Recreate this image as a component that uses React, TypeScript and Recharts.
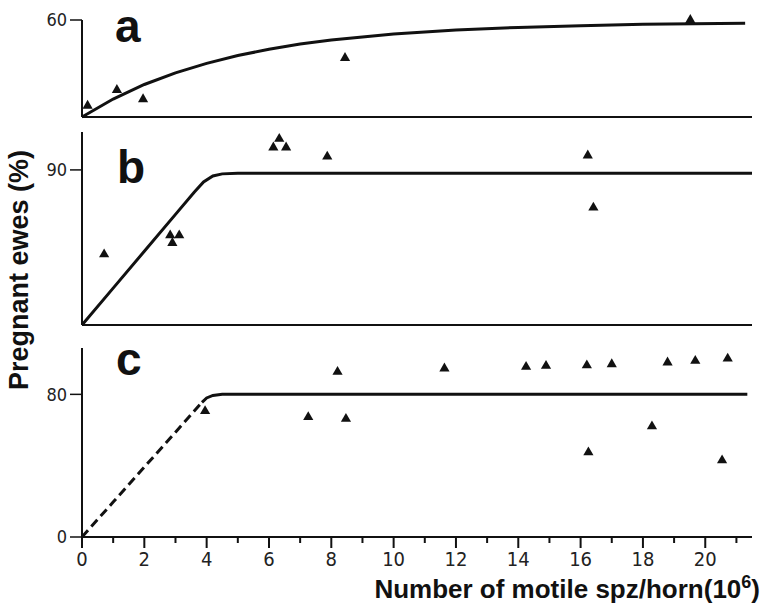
import { ComposedChart, Line, ReferenceLine, Scatter, XAxis, YAxis, ZAxis } from "recharts";

type Pt = { x: number; y: number };

// panel a: fitted curve + observations
const curveA: Pt[] = [
  { x: 0, y: 0 },
  { x: 1, y: 11.1 },
  { x: 2, y: 20.1 },
  { x: 3, y: 27.3 },
  { x: 4, y: 33.2 },
  { x: 5, y: 38.0 },
  { x: 6, y: 41.9 },
  { x: 7, y: 45.1 },
  { x: 8, y: 47.6 },
  { x: 10, y: 51.4 },
  { x: 12, y: 53.8 },
  { x: 14, y: 55.4 },
  { x: 16, y: 56.5 },
  { x: 18, y: 57.3 },
  { x: 21.28, y: 58.0 }
];
const pointsA: Pt[] = [
  { x: 0.18, y: 7 },
  { x: 1.12, y: 16.7 },
  { x: 1.96, y: 11 },
  { x: 8.44, y: 36.5 },
  { x: 19.52, y: 60 }
];

// panel b
const curveB: Pt[] = [
  { x: 0, y: 0 },
  { x: 1, y: 21.4 },
  { x: 2, y: 42.8 },
  { x: 3, y: 64.2 },
  { x: 3.6, y: 77 },
  { x: 3.9, y: 83 },
  { x: 4.2, y: 86.5 },
  { x: 4.5, y: 87.7 },
  { x: 5, y: 88 },
  { x: 21.5, y: 88 }
];
const pointsB: Pt[] = [
  { x: 0.71, y: 41 },
  { x: 2.83, y: 52 },
  { x: 3.12, y: 52 },
  { x: 2.9, y: 47.6 },
  { x: 6.14, y: 103 },
  { x: 6.33, y: 108 },
  { x: 6.55, y: 103 },
  { x: 7.87, y: 97.7 },
  { x: 16.23, y: 98.4 },
  { x: 16.41, y: 68.1 }
];

// panel c: dashed extrapolation, then solid plateau
const dashC: Pt[] = [
  { x: 0, y: 0 },
  { x: 1, y: 19.6 },
  { x: 2, y: 39.2 },
  { x: 3, y: 58.8 },
  { x: 3.85, y: 75.5 }
];
const curveC: Pt[] = [
  { x: 3.85, y: 75.5 },
  { x: 4.0, y: 78 },
  { x: 4.2, y: 79.4 },
  { x: 4.5, y: 80 },
  { x: 21.35, y: 80 }
];
const pointsC: Pt[] = [
  { x: 3.95, y: 70.6 },
  { x: 7.26, y: 67.2 },
  { x: 8.2, y: 92.6 },
  { x: 8.47, y: 66.3 },
  { x: 11.63, y: 94.5 },
  { x: 14.25, y: 95.4 },
  { x: 14.89, y: 96 },
  { x: 16.2, y: 96.3 },
  { x: 17.0, y: 96.9 },
  { x: 18.79, y: 97.9 },
  { x: 19.68, y: 98.8 },
  { x: 20.72, y: 100.1 },
  { x: 18.29, y: 62.1 },
  { x: 16.25, y: 47.5 },
  { x: 20.54, y: 43 }
];

const xTicks = [0, 1, 2, 3, 4, 5, 6, 7, 8, 9, 10, 11, 12, 13, 14, 15, 16, 17, 18, 19, 20, 21];
const X_MAX = 21.5;

const INK = "#111";
const narrow = '"Liberation Sans Narrow", "DejaVu Sans Condensed", sans-serif';
const sans = '"Liberation Sans", Arial, sans-serif';

const XTick = (props: any) => {
  const { x, y, payload } = props;
  const major = payload.value % 2 === 0;
  return (
    <g>
      <line x1={x} x2={x} y1={y} y2={y + (major ? 11 : 6)} stroke={INK} strokeWidth={2} />
      {major && (
        <text x={x} y={y + 29} textAnchor="middle" fontSize={20} fontFamily={narrow} fill="#222">
          {payload.value}
        </text>
      )}
    </g>
  );
};

interface PanelProps {
  top: number;
  height: number;
  marginTop: number;
  marginBottom: number;
  yMax: number;
  yTicks: number[];
  curve: Pt[];
  dashed?: Pt[];
  points: Pt[];
  showX?: boolean;
}

function Panel({ top, height, marginTop, marginBottom, yMax, yTicks, curve, dashed, points, showX }: PanelProps) {
  return (
    <div style={{ position: "absolute", left: 0, top }}>
      <ComposedChart
        width={768}
        height={height}
        margin={{ top: marginTop, right: 16, bottom: marginBottom, left: 40 }}
      >
        <XAxis
          type="number"
          dataKey="x"
          domain={[0, X_MAX]}
          ticks={showX ? xTicks : []}
          tick={showX ? <XTick /> : false}
          tickLine={false}
          tickSize={0}
          tickMargin={0}
          height={showX ? 30 : 0}
          axisLine={false}
          interval={0}
        />
        <YAxis
          type="number"
          dataKey="y"
          domain={[0, yMax]}
          ticks={yTicks}
          width={42}
          tickSize={12}
          tickMargin={3}
          axisLine={false}
          tickLine={{ stroke: INK, strokeWidth: 1.5 }}
          tick={{ fontSize: 18, fontFamily: narrow, fill: "#222" }}
        />
        <ZAxis range={[45, 45]} />
        {/* axis frame: left and bottom lines */}
        <ReferenceLine x={0} stroke={INK} strokeWidth={2} ifOverflow="visible" />
        <ReferenceLine y={0} stroke={INK} strokeWidth={2} ifOverflow="visible" />
        {dashed && (
          <Line
            data={dashed}
            dataKey="y"
            type="linear"
            dot={false}
            stroke={INK}
            strokeWidth={3}
            strokeDasharray="9 5"
            isAnimationActive={false}
          />
        )}
        <Line
          data={curve}
          dataKey="y"
          type="linear"
          dot={false}
          stroke={INK}
          strokeWidth={3}
          isAnimationActive={false}
        />
        <Scatter data={points} dataKey="y" shape="triangle" fill={INK} isAnimationActive={false} />
      </ComposedChart>
    </div>
  );
}

export default function App() {
  return (
    <div style={{ position: "absolute", left: 0, top: 0, width: 768, height: 606, background: "#fff" }}>
      <Panel top={0} height={120} marginTop={20} marginBottom={3} yMax={60} yTicks={[0, 60]} curve={curveA} points={pointsA} />
      <Panel top={120} height={210} marginTop={12} marginBottom={5} yMax={112} yTicks={[0, 90]} curve={curveB} points={pointsB} />
      <Panel
        top={330}
        height={276}
        marginTop={18}
        marginBottom={39}
        yMax={106}
        yTicks={[0, 80]}
        curve={curveC}
        dashed={dashC}
        points={pointsC}
        showX
      />
      <svg width={768} height={606} style={{ position: "absolute", left: 0, top: 0, pointerEvents: "none" }}>
        <g fontFamily={sans} fontWeight="bold" fill={INK}>
          <text x={115} y={42} fontSize={46}>a</text>
          <text x={117} y={183} fontSize={46}>b</text>
          <text x={116} y={375} fontSize={46}>c</text>
          <text x={28} y={270} fontSize={27} textAnchor="middle" transform="rotate(-90 28 270)">
            Pregnant ewes (%)
          </text>
          <text x={760} y={598} fontSize={26} textAnchor="end">
            Number of motile spz/horn(10<tspan fontSize={18} dy={-10}>6</tspan><tspan dy={10}>)</tspan>
          </text>
        </g>
      </svg>
    </div>
  );
}
